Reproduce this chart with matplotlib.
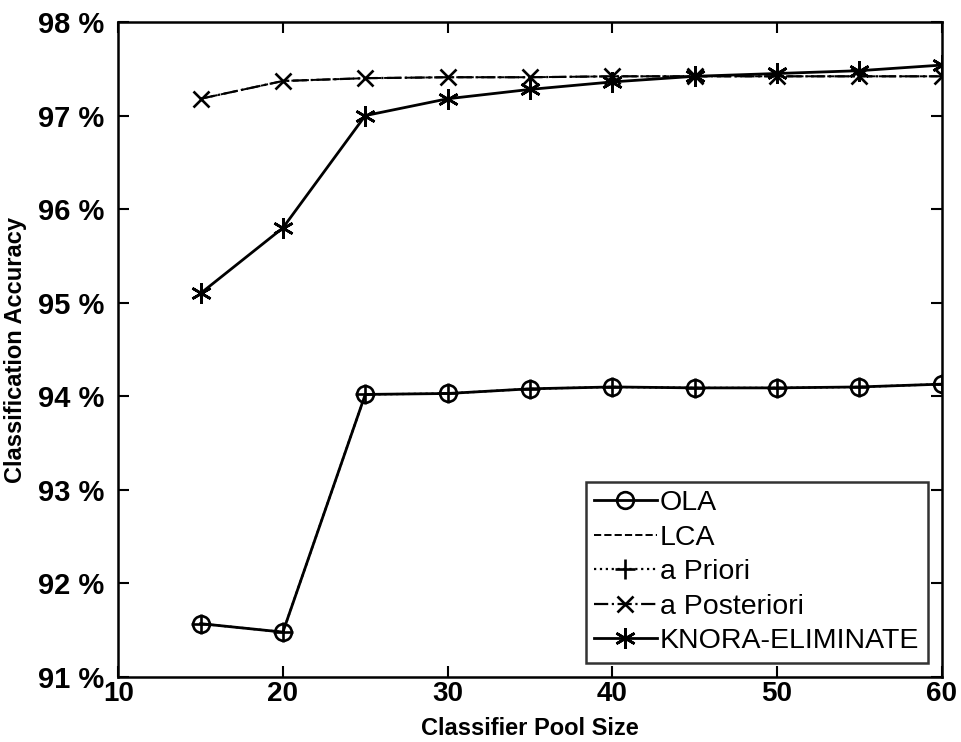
import numpy as np
import matplotlib.pyplot as plt

# Accuracy (%) versus number of classifiers in the pool
pool_size = [15, 20, 25, 30, 35, 40, 45, 50, 55, 60]
ola = [91.57, 91.48, 94.02, 94.03, 94.08, 94.10, 94.09, 94.09, 94.10, 94.13]
lca = [97.18, 97.37, 97.40, 97.41, 97.41, 97.42, 97.42, 97.42, 97.42, 97.42]
a_priori = [91.57, 91.48, 94.02, 94.03, 94.08, 94.10, 94.09, 94.09, 94.10, 94.13]
a_posteriori = [97.18, 97.37, 97.40, 97.41, 97.41, 97.42, 97.42, 97.42, 97.42, 97.42]
knora_e = [95.10, 95.80, 97.00, 97.18, 97.28, 97.36, 97.42, 97.45, 97.48, 97.54]

y_ticks = [91, 92, 93, 94, 95, 96, 97, 98]
x_ticks = [10, 20, 30, 40, 50, 60]

plt.rcParams['font.family'] = ['Liberation Sans', 'DejaVu Sans']

fig = plt.figure(figsize=(9.61, 7.42), dpi=100)
ax = fig.add_axes([0.123, 0.0876, 0.857, 0.8827])

lw = 2.0
ax.plot(pool_size, ola, '-', color='black', lw=lw, marker='o', ms=12,
        mfc='none', mew=1.9, label='OLA')
ax.plot(pool_size, lca, '--', color='black', lw=1.4, label='LCA')
ax.plot(pool_size, a_priori, ':', color='black', lw=1.6, marker='+', ms=14,
        mew=1.9, label='a Priori')
ax.plot(pool_size, a_posteriori, '-.', color='black', lw=1.6, marker='x',
        ms=11, mew=1.9, label='a Posteriori')
ax.plot(pool_size, knora_e, '-', color='black', lw=lw, marker=(6, 2, 0),
        ms=15, mew=1.9, label='KNORA-ELIMINATE')

ax.set_xlim(10, 60)
ax.set_ylim(91, 98)
ax.set_xticks(x_ticks)
ax.set_yticks(y_ticks)
ax.set_yticklabels([f'{t} %' for t in y_ticks])
ax.tick_params(direction='in', length=8, width=1.5, top=True, right=True)
ax.tick_params(axis='y', labelsize=21, pad=10)
ax.tick_params(axis='x', labelsize=20, pad=3)
for lbl in ax.get_xticklabels() + ax.get_yticklabels():
    lbl.set_fontweight('bold')
for sp in ax.spines.values():
    sp.set_linewidth(1.8)

ax.set_xlabel('Classifier Pool Size', fontsize=17, fontweight='bold', labelpad=7)
ax.set_ylabel('Classification Accuracy', fontsize=17, fontweight='bold', labelpad=8)

leg = ax.legend(loc='lower right', fontsize=20.5, frameon=True, fancybox=False,
                edgecolor='black', handlelength=2.2, handletextpad=0.1,
                labelspacing=0.3, borderpad=0.3, borderaxespad=0.5)
leg.get_frame().set_linewidth(1.8)

fig.savefig('out.png', dpi=100)
